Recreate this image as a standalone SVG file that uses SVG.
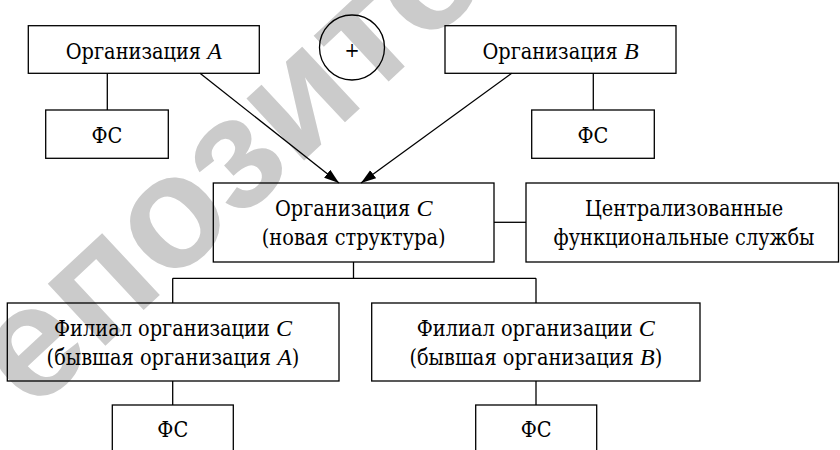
<svg xmlns="http://www.w3.org/2000/svg" width="840" height="450" viewBox="0 0 840 450">
<style>
.box{fill:none;stroke:#000;stroke-width:1.3}
.ln{fill:none;stroke:#000;stroke-width:1.3}
.t{font-family:"DejaVu Serif Condensed","DejaVu Serif",serif;font-size:21.5px;fill:#000;text-anchor:middle}
.i{font-style:italic;font-family:"Liberation Serif","Times New Roman",serif;font-size:24px}
.wm{font-family:"Liberation Sans",Arial,sans-serif;font-size:160px;font-weight:bold;fill:#cbcbcb}
</style>
<defs>
<marker id="arr" markerUnits="userSpaceOnUse" markerWidth="16" markerHeight="12" refX="15" refY="5" orient="auto">
<path d="M0,0 L15,5 L0,10 z" fill="#000"/>
</marker>
</defs>
<rect width="840" height="450" fill="#fff"/>
<text class="wm" transform="translate(-43,484) rotate(-43)">Репозиторий БГПУ</text>
<g id="connectors">
<line class="ln" x1="107.3" y1="73.3" x2="107.3" y2="110"/>
<line class="ln" x1="593.3" y1="73.3" x2="593.3" y2="110"/>
<line class="ln" x1="200" y1="73.3" x2="339" y2="183" marker-end="url(#arr)"/>
<line class="ln" x1="511.7" y1="73.3" x2="361" y2="183" marker-end="url(#arr)"/>
<line class="ln" x1="353.5" y1="262" x2="353.5" y2="278.3"/>
<line class="ln" x1="172.7" y1="278.3" x2="536" y2="278.3"/>
<line class="ln" x1="172.7" y1="278.3" x2="172.7" y2="303"/>
<line class="ln" x1="536" y1="278.3" x2="536" y2="303"/>
<line class="ln" x1="494" y1="222.3" x2="526" y2="222.3"/>
<line class="ln" x1="172.7" y1="381" x2="172.7" y2="405"/>
<line class="ln" x1="536" y1="381" x2="536" y2="405"/>
</g>
<g id="orgA">
<rect class="box" x="28.3" y="25.7" width="231" height="47.6"/>
<text class="t" x="143.8" y="59">Организация <tspan class="i">A</tspan></text>
</g>
<g id="fsA">
<rect class="box" x="45.7" y="110" width="122.6" height="48.3"/>
<text class="t" x="107" y="143">ФС</text>
</g>
<g id="plus">
<circle class="box" cx="352" cy="47.5" r="32.5"/>
<text class="t" x="352" y="57" style="font-size:20px">+</text>
</g>
<g id="orgB">
<rect class="box" x="445" y="25.7" width="231" height="47.6"/>
<text class="t" x="560.5" y="59">Организация <tspan class="i">B</tspan></text>
</g>
<g id="fsB">
<rect class="box" x="531.7" y="110" width="122.6" height="48.3"/>
<text class="t" x="593" y="143">ФС</text>
</g>
<g id="orgC">
<rect class="box" x="213.3" y="183" width="280.7" height="79"/>
<text class="t" x="353.7" y="216">Организация <tspan class="i">C</tspan></text>
<text class="t" x="353.7" y="245">(новая структура)</text>
</g>
<g id="central">
<rect class="box" x="526" y="183" width="312.5" height="79"/>
<text class="t" x="684" y="216">Централизованные</text>
<text class="t" x="684" y="245">функциональные службы</text>
</g>
<g id="branchA">
<rect class="box" x="7.3" y="303" width="331.7" height="78"/>
<text class="t" x="173" y="335.5">Филиал организации <tspan class="i">C</tspan></text>
<text class="t" x="173" y="364.5">(бывшая организация <tspan class="i">A</tspan>)</text>
</g>
<g id="branchB">
<rect class="box" x="371.7" y="303" width="328.3" height="78"/>
<text class="t" x="535.8" y="335.5">Филиал организации <tspan class="i">C</tspan></text>
<text class="t" x="535.8" y="364.5">(бывшая организация <tspan class="i">B</tspan>)</text>
</g>
<g id="fsBA">
<rect class="box" x="112.3" y="405" width="121" height="50"/>
<text class="t" x="172.8" y="437">ФС</text>
</g>
<g id="fsBB">
<rect class="box" x="475.7" y="405" width="121" height="50"/>
<text class="t" x="536.2" y="437">ФС</text>
</g>
</svg>
